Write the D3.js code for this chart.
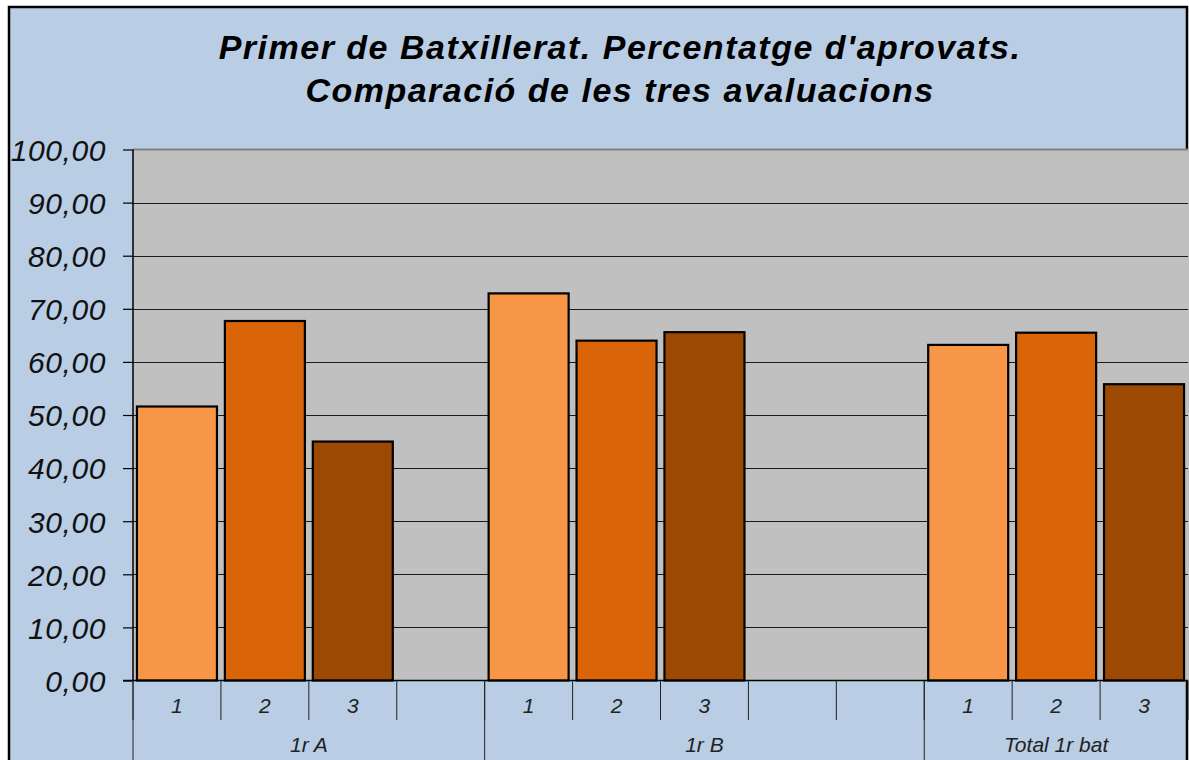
<!DOCTYPE html>
<html><head><meta charset="utf-8">
<script src="https://cdn.jsdelivr.net/npm/d3@7"></script>
<style>body{margin:0;background:#fff;overflow:hidden}svg{display:block}text{font-family:"Liberation Sans",Arial,sans-serif}</style>
</head><body>
<svg id="c" width="1189" height="760"></svg>
<script>
const titleLines = ["Primer de Batxillerat. Percentatge d'aprovats.", "Comparació de les tres avaluacions"];
const groups = ["1r A", "1r B", "Total 1r bat"];
const groupSizes = [4, 5, 3];
const subLabels = ["1","2","3","", "1","2","3","","", "1","2","3"];
const values = [51.6, 67.7, 45.0, null, 72.9, 64.0, 65.6, null, null, 63.2, 65.5, 55.8];
const yTicks = [0,10,20,30,40,50,60,70,80,90,100];
const barColors = {"1":"#F79646","2":"#D96508","3":"#9C4904"};

const svg = d3.select("#c");
const W = 1189, H = 760;
const m = {left:133, right:1188, top:149.5, bottom:680.5};

svg.append("rect").attr("x",9).attr("y",7).attr("width",1178).attr("height",H+10)
  .attr("fill","#B9CDE5").attr("stroke","#000").attr("stroke-width",2.5);

const idx = d3.range(values.length);
const x = d3.scaleBand().domain(idx).range([m.left, m.right]).paddingInner(0).paddingOuter(0);
const y = d3.scaleLinear().domain([0,100]).range([m.bottom, m.top]);

svg.append("rect").attr("x",m.left).attr("y",m.top).attr("width",m.right-m.left).attr("height",m.bottom-m.top).attr("fill","#C0C0C0");

// gridlines
svg.append("g").selectAll("line").data(yTicks.filter(t=>t>0 && t<100)).join("line")
  .attr("x1",m.left).attr("x2",m.right).attr("y1",d=>Math.round(y(d))+0.5).attr("y2",d=>Math.round(y(d))+0.5)
  .attr("stroke","#1a1a1a").attr("stroke-width",1);
svg.append("line").attr("x1",m.left).attr("x2",m.right).attr("y1",m.top).attr("y2",m.top)
  .attr("stroke","#808080").attr("stroke-width",2);

// bars
const bw = 80;
svg.append("g").selectAll("rect").data(idx.filter(i=>values[i]!==null)).join("rect")
  .attr("x",i=>x(i)+(x.bandwidth()-bw)/2).attr("width",bw)
  .attr("y",i=>y(values[i])).attr("height",i=>y(0)-y(values[i]))
  .attr("fill",i=>barColors[subLabels[i]]).attr("stroke","#000").attr("stroke-width",2.2);

// y axis
const yAxis = d3.axisLeft(y).tickValues(yTicks).tickSize(10).tickPadding(17)
  .tickFormat(d=>d3.format(".2f")(d).replace(".",","));
const ya = svg.append("g").attr("transform",`translate(${m.left},0)`).call(yAxis);
ya.select(".domain").attr("stroke","#000").attr("stroke-width",1.5).attr("d",`M-10,${m.bottom}H0V${m.top}`);
ya.selectAll(".tick line").attr("stroke","#000").attr("stroke-width",1.2);
ya.selectAll(".tick text").attr("font-size",30).attr("font-style","italic").attr("fill","#111")
  .attr("letter-spacing",0.6).attr("dy","0.36em")
  .attr("font-family","'Liberation Sans',Arial,sans-serif");

// x axis line
svg.append("line").attr("x1",m.left).attr("x2",m.right).attr("y1",m.bottom).attr("y2",m.bottom).attr("stroke","#000").attr("stroke-width",1.5);

// inner tick separators
const xa = svg.append("g");
xa.selectAll("line.sub").data(d3.range(values.length+1)).join("line").attr("class","sub")
  .attr("x1",i=> i<values.length ? x(i) : m.right).attr("x2",i=> i<values.length ? x(i) : m.right)
  .attr("y1",m.bottom).attr("y2",720).attr("stroke","#222").attr("stroke-width",1);
xa.selectAll("text.sub").data(idx).join("text").attr("class","sub")
  .attr("x",i=>x(i)+x.bandwidth()/2).attr("y",713).attr("text-anchor","middle")
  .attr("font-size",21).attr("font-style","italic").attr("fill","#222").text(i=>subLabels[i]);

// group separators & labels
let starts = []; let acc = 0;
groupSizes.forEach(s=>{starts.push(acc); acc+=s;});
xa.selectAll("line.grp").data(starts).join("line").attr("class","grp")
  .attr("x1",s=>x(s)).attr("x2",s=>x(s)).attr("y1",m.bottom).attr("y2",H)
  .attr("stroke","#222").attr("stroke-width",1);
xa.selectAll("text.grp").data(groups).join("text").attr("class","grp")
  .attr("x",(g,k)=>{const a=x(starts[k]); const e=starts[k]+groupSizes[k]; const b=e<values.length?x(e):m.right; return (a+b)/2;})
  .attr("y",752).attr("text-anchor","middle").attr("font-size",21).attr("font-style","italic").attr("fill","#222").text(d=>d);

// title
svg.append("g").selectAll("text").data(titleLines).join("text")
  .attr("x",620).attr("y",(d,i)=>59+i*43).attr("text-anchor","middle")
  .attr("font-size",34).attr("font-weight","bold").attr("font-style","italic").attr("letter-spacing",1.5).attr("fill","#000").text(d=>d);
</script>
</body></html>
